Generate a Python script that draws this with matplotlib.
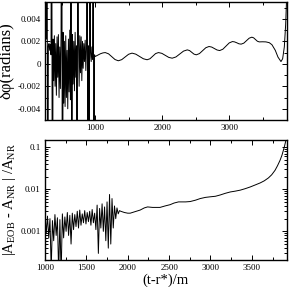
import matplotlib
matplotlib.use("Agg")
import matplotlib.pyplot as plt
from matplotlib.ticker import MultipleLocator, FixedLocator, FixedFormatter, LogLocator, NullFormatter

plt.rcParams['font.family'] = ['Liberation Serif', 'DejaVu Serif']
plt.rcParams['mathtext.fontset'] = 'custom'
plt.rcParams['mathtext.rm'] = 'Liberation Serif'
plt.rcParams['mathtext.it'] = 'Liberation Serif:italic'

# ---------------- data: top panel (phase difference) ----------------
t_noise_top = [250, 260, 270, 280, 290, 300, 310, 320, 330, 340,
               350, 360, 370, 380, 390, 400, 410, 420, 430, 440,
               450, 460, 470, 480, 490, 500, 510, 520, 530, 540,
               550, 560, 570, 580, 590, 600, 610, 620, 630, 640,
               650, 660, 670, 680, 690, 700, 710, 720, 730, 740,
               750, 760, 770, 780, 790, 800, 810, 820, 830, 840,
               850, 860, 870, 880, 890, 900, 910, 920, 930, 940,
               950, 960, 970, 980, 990]
dphi_noise_top = [0.0032, 0.0028, 0.0022, 0.03, -0.03, 0.0016, 0.0018, 0.0012, 0.0017, 0.0008,
                  0.03, -0.03, 0.0022, -0.0015, 0.0025, -0.0020, 0.0018, -0.0028, 0.0024, -0.0012,
                  0.0026, -0.0030, 0.0015, -0.0022, 0.0027, 0.03, -0.03, 0.0028, -0.0035, 0.0020,
                  -0.0038, 0.0025, -0.0030, 0.0012, -0.0040, 0.0022, -0.0025, 0.0030, -0.0032, 0.03,
                  -0.03, 0.0026, -0.0018, 0.0020, -0.0024, 0.0028, -0.0012, 0.0016, -0.03, 0.03,
                  0.0022, -0.0020, 0.0025, -0.0008, 0.0024, -0.0015, 0.0020, -0.0004, 0.0018, 0.0002,
                  0.0021, -0.0006, 0.0014, 0.03, -0.03, 0.0016, -0.03, 0.03, 0.0010, 0.0002,
                  0.0015, 0.0004, 0.03, -0.03, 0.0008]

t_smooth_top = [1000, 1040, 1080, 1115, 1150, 1199, 1248, 1296, 1345, 1396,
                1448, 1499, 1550, 1606, 1662, 1719, 1775, 1818, 1860, 1902,
                1945, 1996, 2048, 2099, 2150, 2206, 2262, 2319, 2375, 2409,
                2442, 2476, 2510, 2557, 2605, 2652, 2700, 2740, 2780, 2820,
                2860, 2907, 2955, 3002, 3050, 3082, 3115, 3147, 3180, 3220,
                3260, 3300, 3340, 3367, 3395, 3422, 3450, 3500, 3550, 3600,
                3640, 3690, 3730, 3775, 3800, 3825, 3845, 3860]
dphi_smooth_top = [0.00065, 0.00078, 0.00090, 0.00097, 0.00100, 0.00089, 0.000635, 0.00038, 0.00027, 0.00037,
                   0.00061, 0.00085, 0.00095, 0.00086, 0.000655, 0.00045, 0.00036, 0.00045, 0.00068, 0.00091,
                   0.00100, 0.00093, 0.00075, 0.00057, 0.00050, 0.00061, 0.00087, 0.00113, 0.00124, 0.00118,
                   0.00102, 0.00086, 0.00080, 0.00091, 0.00117, 0.00143, 0.00154, 0.00149, 0.00136, 0.00123,
                   0.00118, 0.00130, 0.00158, 0.00186, 0.00198, 0.00195, 0.00187, 0.00178, 0.00175, 0.00184,
                   0.00206, 0.00228, 0.00237, 0.00231, 0.00216, 0.00201, 0.00195, 0.00196, 0.00195, 0.00188,
                   0.00170, 0.00120, 0.00060, 0.00020, 0.00045, 0.00150, 0.00350, 0.00600]

top_yticks = [-0.004, -0.002, 0.0, 0.002, 0.004]
top_yticklabels = ["-0.004", "-0.002", "0", "0.002", "0.004"]
top_xticks = [1000, 2000, 3000]
top_xticklabels = ["1000", "2000", "3000"]

# ---------------- data: bottom panel (relative amplitude difference) ----------------
t_noise_bot = [1000, 1015, 1030, 1045, 1060, 1075, 1090, 1105, 1120, 1135,
               1150, 1165, 1180, 1195, 1210, 1225, 1240, 1255, 1270, 1285,
               1300, 1315, 1330, 1345, 1360, 1375, 1390, 1405, 1420, 1435,
               1450, 1465, 1480, 1495, 1510, 1525, 1540, 1555, 1570, 1585,
               1600, 1615, 1630, 1645, 1660, 1675, 1690, 1705, 1720, 1735,
               1750, 1765, 1780, 1795, 1810, 1825, 1840, 1855, 1870, 1885, 1900]
damp_noise_bot = [0.0026, 0.0009, 0.0023, 0.0007, 0.0020, 0.00012, 0.0018, 0.0006, 0.0025, 0.0008,
                  0.0021, 0.00010, 0.0019, 0.00009, 0.0026, 0.0007, 0.0022, 0.0010, 0.0028, 0.0008,
                  0.0024, 0.0005, 0.0027, 0.0011, 0.0025, 0.0013, 0.0030, 0.0012, 0.0032, 0.0014,
                  0.0026, 0.0016, 0.0031, 0.0015, 0.0028, 0.0017, 0.0030, 0.0014, 0.0033, 0.0016,
                  0.0027, 0.0011, 0.0042, 0.0003, 0.0035, 0.0012, 0.0045, 0.0010, 0.0038, 0.0006,
                  0.0050, 0.0004, 0.0075, 0.0005, 0.0060, 0.0012, 0.0040, 0.0020, 0.0036, 0.0026, 0.0031]

t_smooth_bot = [1915, 1960, 2000, 2030, 2080, 2150, 2200, 2240, 2300, 2390,
                2450, 2513, 2560, 2614, 2700, 2755, 2820, 2876, 2940, 2997,
                3060, 3118, 3180, 3239, 3300, 3360, 3420, 3480, 3540, 3601,
                3650, 3700, 3740, 3780, 3810, 3840, 3864, 3880, 3895, 3910, 3920]
damp_smooth_bot = [0.0030, 0.0028, 0.0027, 0.0027, 0.0029, 0.0032, 0.0036, 0.0038, 0.0037, 0.0037,
                   0.0040, 0.0043, 0.0047, 0.0050, 0.0050, 0.0051, 0.0055, 0.0060, 0.0064, 0.0066,
                   0.0068, 0.0073, 0.0080, 0.0086, 0.0090, 0.0095, 0.0103, 0.0113, 0.0126, 0.0141,
                   0.0158, 0.0185, 0.0220, 0.0280, 0.0360, 0.0480, 0.0640, 0.0820, 0.1050, 0.1400, 0.1650]

bot_yticks = [0.001, 0.01, 0.1]
bot_yticklabels = ["0.001", "0.01", "0.1"]
bot_xticks = [1000, 1500, 2000, 2500, 3000, 3500]
bot_xticklabels = ["1000", "1500", "2000", "2500", "3000", "3500"]

# ---------------- figure ----------------
fig = plt.figure(figsize=(2.89, 2.87), dpi=100)
ax1 = fig.add_axes([45/289, 1-120/287, 242/289, 118/287])
ax2 = fig.add_axes([45/289, 1-259.5/287, 242/289, 119.5/287])

lw = 0.7
ax1.plot(t_noise_top + t_smooth_top, dphi_noise_top + dphi_smooth_top, color='black', lw=lw)
ax2.plot(t_noise_bot + t_smooth_bot, damp_noise_bot + damp_smooth_bot, color='black', lw=lw)

ax1.set_xlim(250, 3865)
ax1.set_ylim(-0.005, 0.0055)
ax2.set_yscale('log')
ax2.set_xlim(1000, 3925)
ax2.set_ylim(2.15e-4, 0.147)

for ax in (ax1, ax2):
    for s in ax.spines.values():
        s.set_linewidth(1.0)
    ax.tick_params(which='both', direction='in', top=True, right=True,
                   labelsize=6.5, pad=3, width=0.7)
    ax.tick_params(which='major', length=3.5)
    ax.tick_params(which='minor', length=2)

ax1.xaxis.set_major_locator(FixedLocator(top_xticks))
ax1.xaxis.set_major_formatter(FixedFormatter(top_xticklabels))
ax1.xaxis.set_minor_locator(MultipleLocator(500))
ax1.yaxis.set_major_locator(FixedLocator(top_yticks))
ax1.yaxis.set_major_formatter(FixedFormatter(top_yticklabels))
ax1.yaxis.set_minor_locator(MultipleLocator(0.001))

ax2.xaxis.set_major_locator(FixedLocator(bot_xticks))
ax2.xaxis.set_major_formatter(FixedFormatter(bot_xticklabels))
ax2.xaxis.set_minor_locator(MultipleLocator(250))
ax2.yaxis.set_major_locator(FixedLocator(bot_yticks))
ax2.yaxis.set_major_formatter(FixedFormatter(bot_yticklabels))
ax2.yaxis.set_minor_locator(LogLocator(base=10, subs=[2, 3, 4, 5, 6, 7, 8, 9]))
ax2.yaxis.set_minor_formatter(NullFormatter())

ax1.set_ylabel("δφ(radians)", fontsize=12, labelpad=2)
ax2.set_ylabel(r"|A$_{\mathrm{EOB}}$ - A$_{\mathrm{NR}}$ | /A$_{\mathrm{NR}}$", fontsize=10.5, labelpad=2)
ax2.set_xlabel("(t-r*)/m", fontsize=10.5, labelpad=1)

fig.savefig("out.png", dpi=100)
